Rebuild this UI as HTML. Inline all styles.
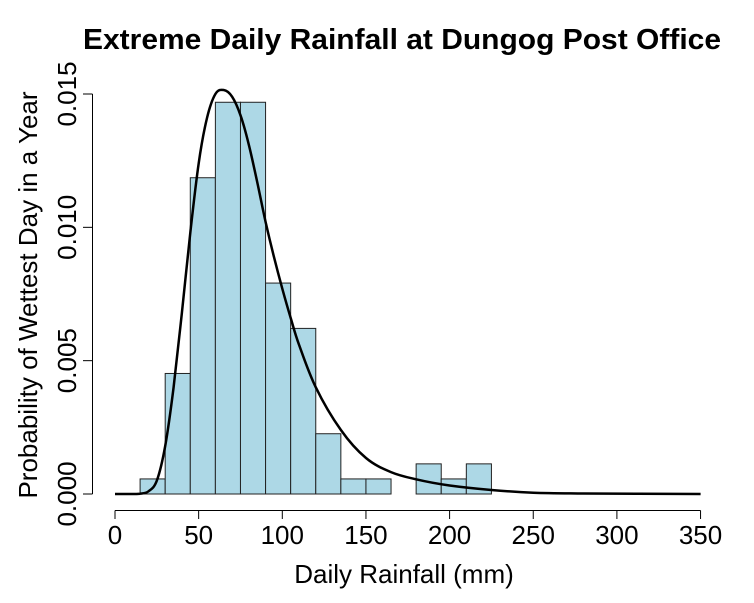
<!DOCTYPE html>
<html><head><meta charset="utf-8"><style>
body{margin:0;background:#fff}
svg{display:block;font-family:"Liberation Sans",Arial,sans-serif}
</style></head><body>
<svg id="c" width="754" height="603">
<text x="402" y="49" text-anchor="middle" font-size="29" font-weight="bold" textLength="638" lengthAdjust="spacingAndGlyphs">Extreme Daily Rainfall at Dungog Post Office</text>
<text x="404" y="583" text-anchor="middle" font-size="26">Daily Rainfall (mm)</text>
<text transform="translate(37,295) rotate(-90)" text-anchor="middle" font-size="26">Probability of Wettest Day in a Year</text>
<g id="bars"></g><g id="curve"></g><g id="xaxis"></g><g id="yaxis"></g>
</svg>
<script>
const binStarts=[15,30,45,60,75,90,105,120,135,150,165,180,195,210];
const binDensity=[0.000565,0.00452,0.01186,0.01469,0.01469,0.00791,0.00621,0.00226,0.000565,0.000565,0,0.00113,0.000565,0.00113];
const binWidth=15;
const curveX=[0,10,15,20,25,30,35,40,45,50,55,60,65,70,75,80,85,90,95,100,105,110,120,135,150,165,180,200,225,250,280,350];
const curveY=[0,0,0.00001,0.0001,0.0005,0.0018,0.0040,0.0068,0.0098,0.0124,0.0141,0.0150,0.01515,0.0149,0.0142,0.0131,0.0117,0.0102,0.0089,0.0077,0.0066,0.0056,0.0040,0.0024,0.00135,0.00082,0.00055,0.00032,0.00015,0.00005,0.00002,0];
const xTicks=[0,50,100,150,200,250,300,350];
const yTicks=[0,0.005,0.010,0.015];
const yTickLabels=["0.000","0.005","0.010","0.015"];
const NS="http://www.w3.org/2000/svg";
const X=v=>115+v*1.673;
const Y=v=>494-v/0.015*400;
function mk(t,a,p){const e=document.createElementNS(NS,t);for(const k in a)e.setAttribute(k,a[k]);p.appendChild(e);return e;}
const bars=document.getElementById('bars');
binStarts.forEach((s,i)=>{
 if(binDensity[i]<=0)return;
 const r=mk('rect',{x:X(s),y:Y(binDensity[i]),width:X(s+binWidth)-X(s),height:Y(0)-Y(binDensity[i]),fill:'#add8e6',stroke:'#222','stroke-width':1},bars);
 
 
});
const cg=document.getElementById('curve');
const pts=curveX.map((x,i)=>[X(x),Y(curveY[i])]);
let d='M'+pts[0][0]+','+pts[0][1];
for(let i=0;i<pts.length-1;i++){
 const p0=pts[Math.max(0,i-1)],p1=pts[i],p2=pts[i+1],p3=pts[Math.min(pts.length-1,i+2)];
 const c1=[p1[0]+(p2[0]-p0[0])/6,p1[1]+(p2[1]-p0[1])/6];
 const c2=[p2[0]-(p3[0]-p1[0])/6,p2[1]-(p3[1]-p1[1])/6];
 c1[1]=Math.min(c1[1],494);c2[1]=Math.min(c2[1],494);
 d+=`C${c1[0].toFixed(1)},${c1[1].toFixed(1)} ${c2[0].toFixed(1)},${c2[1].toFixed(1)} ${p2[0].toFixed(1)},${p2[1].toFixed(1)}`;
}
const p=mk('path',{d:d,fill:'none',stroke:'#000','stroke-width':2.5,'stroke-linejoin':'round'},cg);


const xa=document.getElementById('xaxis');
const xl=mk('line',{x1:X(xTicks[0]),x2:X(xTicks[xTicks.length-1]),y1:510.5,y2:510.5,stroke:'#000'},xa);


xTicks.forEach(t=>{
 mk('line',{x1:X(t),x2:X(t),y1:510.5,y2:519,stroke:'#000'},xa);
 const tx=mk('text',{x:X(t),y:544,'text-anchor':'middle','font-size':26},xa);
 tx.textContent=t;
 
 
});
const ya=document.getElementById('yaxis');
const yl=mk('line',{x1:92.5,x2:92.5,y1:Y(yTicks[0]),y2:Y(yTicks[yTicks.length-1]),stroke:'#000'},ya);


yTicks.forEach((t,i)=>{
 mk('line',{x1:83,x2:92.5,y1:Y(t),y2:Y(t),stroke:'#000'},ya);
 const tx=mk('text',{transform:`translate(76,${Y(t)}) rotate(-90)`,'text-anchor':'middle','font-size':26},ya);
 tx.textContent=yTickLabels[i];
 
 
});
</script>
</body></html>
